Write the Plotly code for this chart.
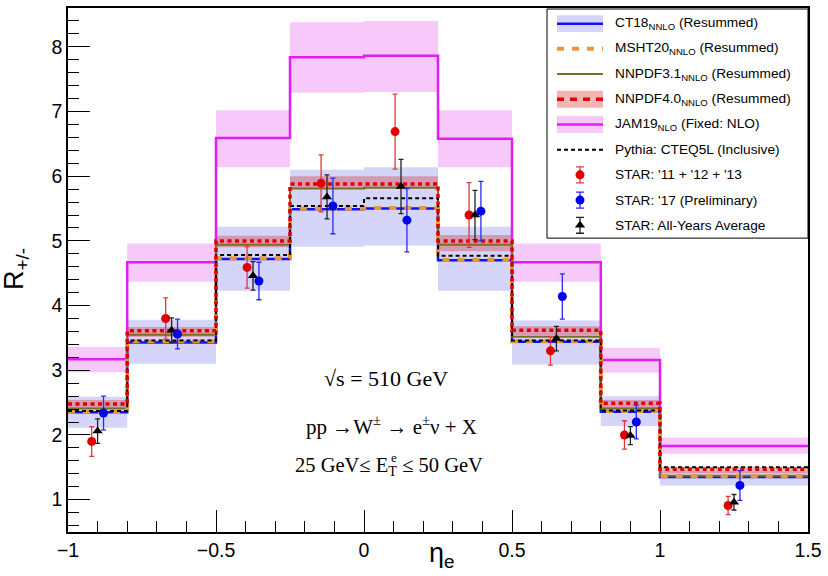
import plotly.graph_objects as go

# ---------------- data ----------------
edges = [-1.0, -0.8, -0.5, -0.25, 0.0, 0.25, 0.5, 0.8, 1.0, 1.5]

ct18 =      [2.35, 3.43, 4.72, 5.49, 5.50, 4.70, 3.44, 2.36, 1.35]
ct18_lo =   [2.11, 3.10, 4.23, 4.91, 4.93, 4.23, 3.09, 2.14, 1.22]
ct18_hi =   [2.59, 3.78, 5.22, 6.10, 6.14, 5.22, 3.77, 2.60, 1.44]
msht20 =    [2.36, 3.45, 4.73, 5.50, 5.51, 4.71, 3.45, 2.37, 1.36]
nnpdf31 =   [2.41, 3.55, 4.94, 5.81, 5.82, 4.94, 3.52, 2.41, 1.37]
nnpdf40 =   [2.48, 3.61, 5.00, 5.88, 5.88, 5.00, 3.62, 2.49, 1.47]
nnpdf40_lo = [2.40, 3.52, 4.90, 5.82, 5.82, 4.84, 3.54, 2.41, 1.41]
nnpdf40_hi = [2.54, 3.67, 5.08, 6.00, 6.00, 5.09, 3.68, 2.54, 1.51]
jam19 =     [3.17, 4.67, 6.59, 7.84, 7.86, 6.58, 4.67, 3.16, 1.83]
jam19_lo =  [2.97, 4.37, 6.14, 7.29, 7.30, 6.14, 4.37, 2.96, 1.71]
jam19_hi =  [3.36, 4.96, 7.02, 8.38, 8.40, 7.02, 4.96, 3.35, 1.96]
pythia =    [2.37, 3.46, 4.78, 5.54, 5.66, 4.77, 3.46, 2.38, 1.50]

star_11_13 =     [1.90, 3.80, 4.59, 5.89, 6.69, 5.40, 3.30, 2.00, 0.91]
star_11_13_err = [0.23, 0.32, 0.32, 0.44, 0.58, 0.50, 0.22, 0.22, 0.14]
star_17 =        [2.34, 3.56, 4.38, 5.54, 5.32, 5.46, 4.14, 2.20, 1.22]
star_17_err =    [0.26, 0.23, 0.29, 0.43, 0.49, 0.46, 0.35, 0.26, 0.23]
star_avg =       [2.06, 3.62, 4.46, 5.68, 5.84, 5.40, 3.49, 1.99, 0.96]
star_avg_err =   [0.19, 0.19, 0.22, 0.34, 0.42, 0.38, 0.19, 0.14, 0.12]

xtick_vals = [-1, -0.5, 0, 0.5, 1, 1.5]
xtick_text = ["\u22121", "\u22120.5", "0", "0.5", "1", "1.5"]

legend_labels = [
    "CT18<sub>NNLO</sub> (Resummed)",
    "MSHT20<sub>NNLO</sub> (Resummed)",
    "NNPDF3.1<sub>NNLO</sub> (Resummed)",
    "NNPDF4.0<sub>NNLO</sub> (Resummed)",
    "JAM19<sub>NLO</sub> (Fixed: NLO)",
    "Pythia: CTEQ5L (Inclusive)",
    "STAR: '11 + '12 + '13",
    "STAR: '17 (Preliminary)",
    "STAR: All-Years Average",
]

# ---------------- styles ----------------
BLUE = "#1414f0"
ORANGE = "#e39a3c"
OLIVE = "#7a6f1f"
RED = "#dc0000"
MAGENTA = "#e01ef2"
BLUE_BAND = "rgba(100,100,235,0.27)"
RED_BAND = "rgba(220,40,40,0.35)"
JAM_BAND = "rgba(230,100,240,0.35)"
SANS = "Liberation Sans, Arial, sans-serif"
SERIF = "Liberation Serif, Times New Roman, serif"

W, H = 828, 576
L, R, T, B = 68, 808, 6, 532  # plot area in pixels


def px2paper(px, py):
    return (px - L) / (R - L), (B - py) / (B - T)


def step(v):
    return list(v) + [v[-1]]


centers = [(edges[i] + edges[i + 1]) / 2 for i in range(len(edges) - 1)]

fig = go.Figure()


def band(lo, hi, color):
    fig.add_trace(go.Scatter(x=edges, y=step(lo), mode="lines", line=dict(width=0, shape="hv"),
                             showlegend=False, hoverinfo="skip"))
    fig.add_trace(go.Scatter(x=edges, y=step(hi), mode="lines", line=dict(width=0, shape="hv"),
                             fill="tonexty", fillcolor=color, showlegend=False, hoverinfo="skip"))


band(ct18_lo, ct18_hi, BLUE_BAND)
band(nnpdf40_lo, nnpdf40_hi, RED_BAND)
band(jam19_lo, jam19_hi, JAM_BAND)


def hline(vals, color, width, dash="solid"):
    fig.add_trace(go.Scatter(x=edges, y=step(vals), mode="lines",
                             line=dict(color=color, width=width, shape="hv", dash=dash),
                             showlegend=False))


hline(jam19, MAGENTA, 2.5)
hline(ct18, BLUE, 2.5)
hline(nnpdf31, OLIVE, 2)
hline(msht20, ORANGE, 4, "7px,8px")
hline(pythia, "black", 2, "4px,3px")
hline(nnpdf40, RED, 3.5, "4px,3.5px")


def points(y, err, dx, color, ecolor, symbol):
    fig.add_trace(go.Scatter(
        x=[c + dx for c in centers], y=y, mode="markers",
        marker=dict(color=color, size=9, symbol=symbol),
        error_y=dict(type="data", array=err, color=ecolor, thickness=1.3, width=2.5),
        showlegend=False))


points(star_11_13, star_11_13_err, -0.02, "#e00000", "#e03a3a", "circle")
points(star_avg, star_avg_err, 0.0, "black", "#222222", "triangle-up")
points(star_17, star_17_err, 0.02, "#0000f0", "#2a2af0", "circle")

# ---------------- legend (drawn manually, pixel coords on overlay axes) ----------------
shapes = []
annotations = []
shapes.append(dict(type="rect", xref="x2", yref="y2", x0=547, x1=808, y0=7, y1=237,
                   line=dict(color="black", width=1), fillcolor="white", layer="below"))
row_y = [21.7 + 25.3 * i for i in range(9)]
sx0, sx1, tx = 557, 603, 613


def lg_line(i, color, width, dash="solid"):
    shapes.append(dict(type="line", xref="x2", yref="y2", x0=sx0, x1=sx1, y0=row_y[i], y1=row_y[i],
                       line=dict(color=color, width=width, dash=dash), layer="below"))


def lg_band(i, color):
    shapes.append(dict(type="rect", xref="x2", yref="y2", x0=sx0, x1=sx1,
                       y0=row_y[i] - 8.5, y1=row_y[i] + 8.5, line=dict(width=0),
                       fillcolor=color, layer="below"))


lg_band(0, BLUE_BAND); lg_line(0, BLUE, 2.5)
lg_line(1, ORANGE, 4, "7px,8px")
lg_line(2, OLIVE, 2)
lg_band(3, RED_BAND); lg_line(3, RED, 3.5, "7px,6px")
lg_band(4, JAM_BAND); lg_line(4, MAGENTA, 2.5)
lg_line(5, "black", 2, "4px,3px")

for i, (col, ecol, sym) in enumerate([("#e00000", "#e03a3a", "circle"),
                                       ("#0000f0", "#2a2af0", "circle"),
                                       ("black", "#222222", "triangle-up")]):
    fig.add_trace(go.Scatter(x=[580], y=[row_y[6 + i]], xaxis="x2", yaxis="y2", mode="markers",
                             marker=dict(color=col, size=9, symbol=sym),
                             error_y=dict(type="constant", value=8, color=ecol, thickness=1.3, width=4),
                             showlegend=False, hoverinfo="skip"))

for i, lab in enumerate(legend_labels):
    annotations.append(dict(xref="x2", yref="y2", x=tx, y=row_y[i], text=lab, showarrow=False,
                            xanchor="left", yanchor="middle",
                            font=dict(family=SANS, size=13.7, color="black")))

# ---------------- physics text ----------------
phys = [("\u221As = 510 GeV", 386, 378, 22),
        ("pp \u2192W<sup>\u00b1</sup> \u2192 e<sup>\u00b1</sup>\u03bd + X", 391, 425, 21),
        ("25 GeV\u2264 E<sub>T</sub> \u2264 50 GeV", 389, 466, 20.5)]
for txt, x, y, s in phys:
    annotations.append(dict(xref="x2", yref="y2", x=x, y=y, text=txt, showarrow=False,
                            xanchor="center", yanchor="middle",
                            font=dict(family=SERIF, size=s, color="black")))
annotations.append(dict(xref="x2", yref="y2", x=394, y=457, text="e", showarrow=False,
                        xanchor="center", yanchor="middle",
                        font=dict(family=SERIF, size=13, color="black")))

# axis titles
ax, ay = px2paper(16, 268)
annotations.append(dict(xref="paper", yref="paper", x=ax, y=ay, text="R<sub>+/-</sub>", textangle=-90,
                        showarrow=False, xanchor="center", yanchor="middle",
                        font=dict(family=SANS, size=27, color="black")))
ex, ey = px2paper(442, 555)
annotations.append(dict(xref="paper", yref="paper", x=ex, y=ey, text="\u03b7<sub>e</sub>",
                        showarrow=False, xanchor="center", yanchor="middle",
                        font=dict(family=SANS, size=27, color="black")))

axis_common = dict(showline=True, mirror=True, linecolor="black", linewidth=1.5,
                   ticks="inside", ticklen=22, tickwidth=1.2, tickcolor="black",
                   showgrid=False, zeroline=False,
                   tickfont=dict(family=SANS, size=19.5, color="black"))

fig.update_layout(
    width=W, height=H,
    margin=dict(l=L, r=W - R, t=T, b=H - B),
    paper_bgcolor="white", plot_bgcolor="white",
    showlegend=False,
    xaxis=dict(range=[-1, 1.5], tickvals=xtick_vals, ticktext=xtick_text,
               minor=dict(ticks="inside", ticklen=11, tickwidth=1.2, dtick=0.1, tick0=-1, tickcolor="black"),
               **axis_common),
    yaxis=dict(range=[0.5, 8.6], tick0=0, dtick=1,
               minor=dict(ticks="inside", ticklen=11, tickwidth=1.2, dtick=0.2, tick0=0, tickcolor="black"),
               **axis_common),
    xaxis2=dict(overlaying="x", range=[L, R], visible=False, anchor="y2"),
    yaxis2=dict(overlaying="y", range=[B, T], visible=False, anchor="x2"),
    shapes=shapes,
    annotations=annotations,
)

fig.write_html("out.html")
